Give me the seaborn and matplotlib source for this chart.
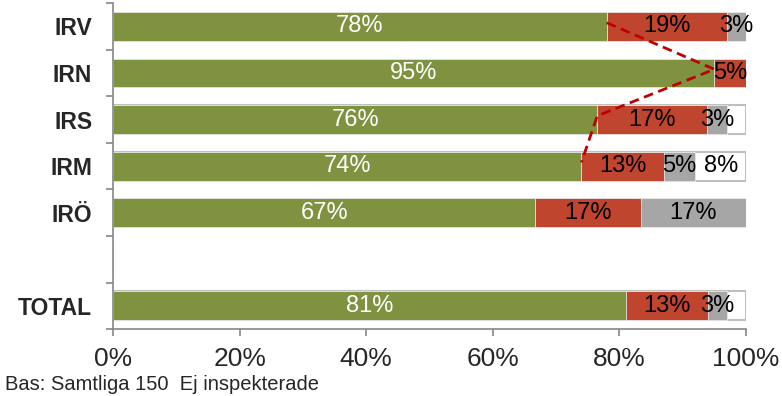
import numpy as np
import pandas as pd
import matplotlib
matplotlib.use("Agg")
import matplotlib.pyplot as plt
import seaborn as sns
from matplotlib.ticker import FixedLocator

# ---- data (percent of inspected) ----
regions = ["IRV", "IRN", "IRS", "IRM", "IRÖ", " ", "TOTAL"]
green = [78, 95, 76.5, 74, 66.7, 0, 81]
red = [19, 5, 17.4, 13, 16.7, 0, 13]
gray = [3, 0, 3.1, 5, 16.6, 0, 3]
white = [0, 0, 3.0, 8, 0, 0, 3]
trend_regions = ["IRV", "IRN", "IRS", "IRM"]   # dashed line over green share
x_ticks = [0, 20, 40, 60, 80, 100]
footer = "Bas: Samtliga 150  Ej inspekterade"

GREEN = "#7F923F"
RED = "#C0452F"
GRAY = "#A6A6A6"
WHITE_EDGE = "#BFBFBF"
AXIS = "#868686"

sns.set_style("white")
plt.rcParams["font.family"] = ["Liberation Sans", "DejaVu Sans"]

df = pd.DataFrame({"region": regions, "green": green, "red": red,
                   "gray": gray, "white": white})
# cumulative ends, drawn back to front so each layer covers the previous
df["c1"] = df["green"]
df["c2"] = df["c1"] + df["red"]
df["c3"] = df["c2"] + df["gray"]
df["c4"] = df["c3"] + df["white"]

fig = plt.figure(figsize=(7.82, 3.96), dpi=100)
ax = fig.add_axes([0.1445, 0.169, 0.8095, 0.823])

bw = 0.62
sns.barplot(data=df, x="c4", y="region", order=regions, color="white",
            width=bw, edgecolor=WHITE_EDGE, linewidth=1.5, saturation=1, ax=ax)
# only keep the white box border where there is a white share
for patch, w in zip(ax.containers[0], df["white"]):
    if w <= 0:
        patch.set_edgecolor("none")
for col, c in [("c3", GRAY), ("c2", RED), ("c1", GREEN)]:
    sns.barplot(data=df, x=col, y="region", order=regions, color=c,
                width=bw, edgecolor="#E8E8E8", linewidth=0.6, saturation=1, ax=ax)

# segment labels
for i, row in df.iterrows():
    segs = [(0, row["green"], "white"), (row["c1"], row["red"], "black"),
            (row["c2"], row["gray"], "black"), (row["c3"], row["white"], "black")]
    for k, (start, val, tc) in enumerate(segs):
        if val <= 0:
            continue
        if k == 3 and val < 5:
            continue
        ax.text(start + val / 2, i, f"{round(val):.0f}%", ha="center", va="center",
                color=tc, fontsize=17)

# dashed red trend across the green shares
tr = df[df["region"].isin(trend_regions)]
sns.lineplot(x=tr["green"].values, y=tr.index.values - 0.08, sort=False,
             estimator=None, color="#C00000", lw=2, ax=ax)
ax.lines[-1].set_dashes([3.5, 2])

ax.set_xlim(0, 100)
ax.set_ylim(len(regions) - 0.5, -0.5)
ax.set_xticks(x_ticks)
ax.set_xticklabels([f"{t}%" for t in x_ticks], fontsize=19)
ax.set_xlabel("")
ax.set_ylabel("")
ax.set_yticks(range(len(regions)))
ax.set_yticklabels(regions, fontsize=16.5, fontweight="bold")
ax.yaxis.set_minor_locator(FixedLocator(np.arange(-0.5, len(regions), 1.0)))
ax.tick_params(axis="y", which="major", length=0, pad=15)
ax.tick_params(axis="y", which="minor", length=5, color=AXIS, width=1.2, left=True)
ax.tick_params(axis="x", length=5, color=AXIS, width=1.2, bottom=True, pad=8)

sns.despine(ax=ax, top=True, right=True)
for s in ["left", "bottom"]:
    ax.spines[s].set_color(AXIS)
    ax.spines[s].set_linewidth(1.2)
ax.grid(False)

fig.text(5 / 782, 1 - 385 / 396, footer, fontsize=14.5, ha="left", va="center")

fig.savefig("out.png", dpi=100)
